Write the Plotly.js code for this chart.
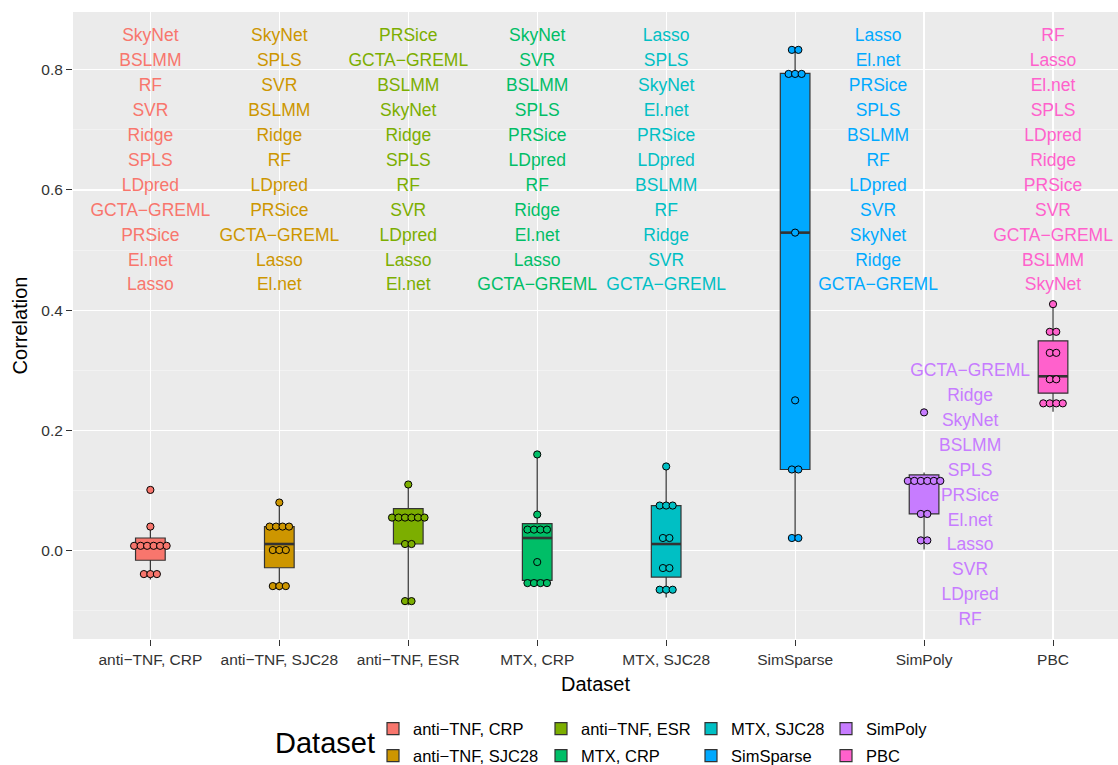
<!DOCTYPE html>
<html>
<head>
<meta charset="utf-8">
<script src="https://cdn.plot.ly/plotly-3.0.1.min.js"></script>
<style>html,body{margin:0;padding:0;background:#fff;}#chart{width:1118px;height:765px;}</style>
</head>
<body>
<div id="chart"></div>
<script>
// ---------------- data ----------------
const categories = ['anti\u2212TNF, CRP', 'anti\u2212TNF, SJC28', 'anti\u2212TNF, ESR', 'MTX, CRP', 'MTX, SJC28', 'SimSparse', 'SimPoly', 'PBC'];
const colors = ['#F8766D', '#CD9600', '#7CAE00', '#00BE67', '#00BFC4', '#00A9FF', '#C77CFF', '#FF61CC'];

// correlation of the 11 methods per dataset
const valsCRP       = [0.101, 0.040, 0.008, 0.008, 0.008, 0.008, 0.008, 0.008, -0.039, -0.039, -0.039];
const valsSJC28     = [0.080, 0.040, 0.040, 0.040, 0.040, 0.001, 0.001, 0.001, -0.059, -0.059, -0.059];
const valsESR       = [0.110, 0.055, 0.055, 0.055, 0.055, 0.055, 0.055, 0.011, 0.011, -0.084, -0.084];
const valsMTXCRP    = [0.160, 0.060, 0.035, 0.035, 0.035, 0.035, -0.019, -0.054, -0.054, -0.054, -0.054];
const valsMTXSJC28  = [0.140, 0.075, 0.075, 0.075, 0.021, 0.021, -0.029, -0.029, -0.065, -0.065, -0.065];
const valsSimSparse = [0.833, 0.833, 0.793, 0.793, 0.793, 0.529, 0.250, 0.135, 0.135, 0.021, 0.021];
const valsSimPoly   = [0.230, 0.116, 0.116, 0.116, 0.116, 0.116, 0.116, 0.061, 0.061, 0.017, 0.017];
const valsPBC       = [0.410, 0.364, 0.364, 0.329, 0.329, 0.285, 0.285, 0.245, 0.245, 0.245, 0.245];
const values = [valsCRP, valsSJC28, valsESR, valsMTXCRP, valsMTXSJC28, valsSimSparse, valsSimPoly, valsPBC];

// box statistics
const boxQ1     = [-0.016, -0.0285, 0.011, -0.0495, -0.044, 0.135, 0.061, 0.262];
const boxMedian = [0.008, 0.011, 0.055, 0.021, 0.011, 0.529, 0.116, 0.290];
const boxQ3     = [0.021, 0.040, 0.070, 0.045, 0.075, 0.794, 0.126, 0.349];
const boxLower  = [-0.048, -0.066, -0.091, -0.056, -0.078, 0.018, 0.002, 0.231];
const boxUpper  = [0.040, 0.080, 0.110, 0.160, 0.140, 0.833, 0.130, 0.410];

// method ranking labels per dataset (top to bottom)
const labelsCRP       = ['SkyNet','BSLMM','RF','SVR','Ridge','SPLS','LDpred','GCTA\u2212GREML','PRSice','El.net','Lasso'];
const labelsSJC28     = ['SkyNet','SPLS','SVR','BSLMM','Ridge','RF','LDpred','PRSice','GCTA\u2212GREML','Lasso','El.net'];
const labelsESR       = ['PRSice','GCTA\u2212GREML','BSLMM','SkyNet','Ridge','SPLS','RF','SVR','LDpred','Lasso','El.net'];
const labelsMTXCRP    = ['SkyNet','SVR','BSLMM','SPLS','PRSice','LDpred','RF','Ridge','El.net','Lasso','GCTA\u2212GREML'];
const labelsMTXSJC28  = ['Lasso','SPLS','SkyNet','El.net','PRSice','LDpred','BSLMM','RF','Ridge','SVR','GCTA\u2212GREML'];
const labelsSimSparse = ['Lasso','El.net','PRSice','SPLS','BSLMM','RF','LDpred','SVR','SkyNet','Ridge','GCTA\u2212GREML'];
const labelsSimPoly   = ['GCTA\u2212GREML','Ridge','SkyNet','BSLMM','SPLS','PRSice','El.net','Lasso','SVR','LDpred','RF'];
const labelsPBC       = ['RF','Lasso','El.net','SPLS','LDpred','Ridge','PRSice','SVR','GCTA\u2212GREML','BSLMM','SkyNet'];
const labels = [labelsCRP, labelsSJC28, labelsESR, labelsMTXCRP, labelsMTXSJC28, labelsSimSparse, labelsSimPoly, labelsPBC];

// ---------------- layout config (positions / styles) ----------------
const labelTop  = [0.855, 0.855, 0.855, 0.855, 0.855, 0.855, 0.298, 0.855];
const labelStep = 0.0415;
const labelDx   = [0, 0, 0, 0, 0, 0.643, 0.357, 0];
const boxWidth = 0.23;
const dotStep = 0.0504;
const plotL = 73, plotR = 1118, plotT = 12, plotB = 639;
const legendColTextX = [413, 581, 731, 866];
const legendRowY = [729, 756];

const traces = [];
const layoutLegends = {};
const W = plotR - plotL, H = plotB - plotT;

categories.forEach((cat, i) => {
  const col = colors[i];
  const legendId = i === 0 ? 'legend' : 'legend' + (i + 1);
  // box
  traces.push({
    type: 'box', name: cat, x: [i],
    q1: [boxQ1[i]], median: [boxMedian[i]], q3: [boxQ3[i]],
    lowerfence: [boxLower[i]], upperfence: [boxUpper[i]],
    width: boxWidth, whiskerwidth: 0, boxpoints: false,
    fillcolor: col, line: {color: '#333333', width: 1.2},
    legend: legendId, showlegend: true, hoverinfo: 'skip'
  });
  // thick median
  traces.push({
    type: 'scatter', mode: 'lines', x: [i - boxWidth / 2, i + boxWidth / 2],
    y: [boxMedian[i], boxMedian[i]], line: {color: '#333333', width: 2.6},
    showlegend: false, hoverinfo: 'skip'
  });
  // dots stacked horizontally (centered) for equal values
  const vals = values[i];
  const counts = {};
  vals.forEach(v => { counts[v] = (counts[v] || 0) + 1; });
  const seen = {};
  const xs = [], ys = [];
  vals.forEach(v => {
    const n = counts[v];
    const j = seen[v] || 0;
    seen[v] = j + 1;
    xs.push(i + (j - (n - 1) / 2) * dotStep);
    ys.push(v);
  });
  traces.push({
    type: 'scatter', mode: 'markers', x: xs, y: ys,
    marker: {color: col, size: 7.2, line: {color: '#000000', width: 1}},
    showlegend: false, hoverinfo: 'skip', cliponaxis: false
  });
  // ranking labels
  const lab = labels[i];
  traces.push({
    type: 'scatter', mode: 'text',
    x: lab.map(() => i + labelDx[i]),
    y: lab.map((_, k) => labelTop[i] - k * labelStep),
    text: lab, textposition: 'middle center',
    textfont: {family: 'Liberation Sans, Arial, sans-serif', size: 17.5, color: col},
    showlegend: false, hoverinfo: 'skip', cliponaxis: false
  });
  // legend placement (column-major like ggplot)
  const c = Math.floor(i / 2), r = i % 2;
  layoutLegends[legendId] = {
    x: (legendColTextX[c] - 40 - plotL) / W,
    y: (plotB - legendRowY[r]) / H,
    xanchor: 'left', yanchor: 'middle', bgcolor: 'rgba(0,0,0,0)',
    font: {family: 'Liberation Sans, Arial, sans-serif', size: 16.5, color: '#000'},
    orientation: 'v'
  };
});

const layout = Object.assign({
  width: 1118, height: 765,
  margin: {l: plotL, r: 1118 - plotR, t: plotT, b: 765 - plotB, autoexpand: false},
  paper_bgcolor: '#ffffff', plot_bgcolor: '#EBEBEB',
  font: {family: 'Liberation Sans, Arial, sans-serif', color: '#000'},
  boxmode: 'overlay',
  xaxis: {
    range: [-0.6, (plotR - 150) / 129], tickvals: categories.map((_, i) => i), ticktext: categories,
    ticks: 'outside', ticklen: 6, tickcolor: '#333333', tickwidth: 1,
    tickfont: {size: 15.5, color: '#333333'},
    showgrid: true, gridcolor: '#ffffff', gridwidth: 1.2, zeroline: false, showline: false,
    automargin: false,
    title: {text: 'Dataset', font: {size: 20, color: '#000'}, standoff: 10}
  },
  yaxis: {
    range: [-0.147, 0.896], tickvals: [0, 0.2, 0.4, 0.6, 0.8], tickformat: '.1f',
    ticks: 'outside', ticklen: 6, tickcolor: '#333333', tickwidth: 1,
    tickfont: {size: 15.5, color: '#333333'},
    showgrid: true, gridcolor: '#ffffff', gridwidth: 1.2, zeroline: false, showline: false,
    automargin: false,
    minor: {tickvals: [-0.1, 0.1, 0.3, 0.5, 0.7], showgrid: true, gridcolor: '#F7F7F7', gridwidth: 0.6, ticks: ''},
    title: {text: 'Correlation', font: {size: 20, color: '#000'}, standoff: 8}
  },
  annotations: [{
    text: 'Dataset', xref: 'paper', yref: 'paper',
    x: (325 - plotL) / W, y: (plotB - 743) / H, xanchor: 'center', yanchor: 'middle',
    showarrow: false, font: {size: 29, color: '#000', family: 'Liberation Sans, Arial, sans-serif'}
  }]
}, layoutLegends);

Plotly.newPlot('chart', traces, layout, {displayModeBar: false, staticPlot: true});
</script>
</body>
</html>
